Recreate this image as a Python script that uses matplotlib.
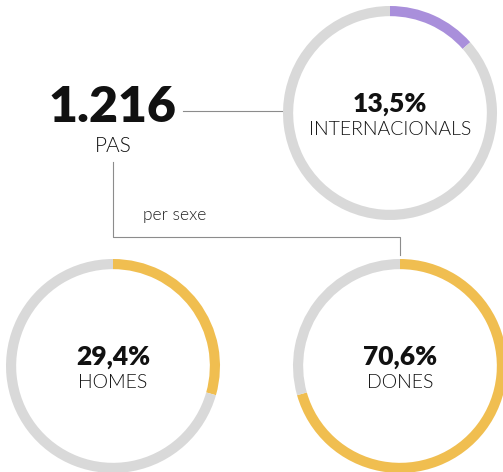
import matplotlib.pyplot as plt

# values
total_label = "1.216"
total_name = "PAS"
ring_names = ["INTERNACIONALS", "HOMES", "DONES"]
ring_values = [13.5, 29.4, 70.6]
ring_labels = ["13,5%", "29,4%", "70,6%"]
ring_colors = ["#a98fdb", "#f0be50", "#f0be50"]
split_label = "per sexe"

W, H = 503, 472
GREY = "#d9d9d9"
LINE = "#8c8c8c"
FONT = ["Lato", "DejaVu Sans"]

# ring centres in pixels (x, y from top) and outer radius
centres = [(390, 113), (113, 366), (400, 366)]
R = 107

fig = plt.figure(figsize=(W / 100, H / 100), dpi=100)

# background axes in pixel coordinates for connector lines and labels
bg = fig.add_axes([0, 0, 1, 1])
bg.set_xlim(0, W)
bg.set_ylim(H, 0)
bg.axis("off")

bg.plot([183, 283], [111, 111], color=LINE, lw=0.8)
bg.plot([113, 113, 400, 400], [162, 237, 237, 255], color=LINE, lw=0.8)

bg.text(112, 122, total_label, ha="center", va="baseline", fontsize=36,
        fontweight="heavy", family=FONT, color="#111111")
bg.text(113, 152, total_name, ha="center", va="baseline", fontsize=15,
        fontweight=300, family=FONT, color="#111111")
bg.text(143, 220, split_label, ha="left", va="baseline", fontsize=12.5,
        fontweight=300, family=FONT, color="#222222")

for (cx, cy), val, lab, name, col in zip(centres, ring_values, ring_labels,
                                         ring_names, ring_colors):
    ax = fig.add_axes([(cx - R) / W, (H - cy - R) / H, 2 * R / W, 2 * R / H])
    ax.pie([val, 100 - val], colors=[col, GREY], startangle=90,
           counterclock=False, radius=1.0,
           wedgeprops=dict(width=0.095, linewidth=0))
    ax.set_xlim(-1, 1)
    ax.set_ylim(-1, 1)
    ax.set_aspect("equal")
    ax.axis("off")
    bg.text(cx, cy - 1, lab, ha="center", va="baseline", fontsize=19,
            fontweight="heavy", family=FONT, color="#111111")
    bg.text(cx, cy + 22, name, ha="center", va="baseline", fontsize=14,
            fontweight=300, family=FONT, color="#111111")

fig.savefig("out.png", dpi=100)
